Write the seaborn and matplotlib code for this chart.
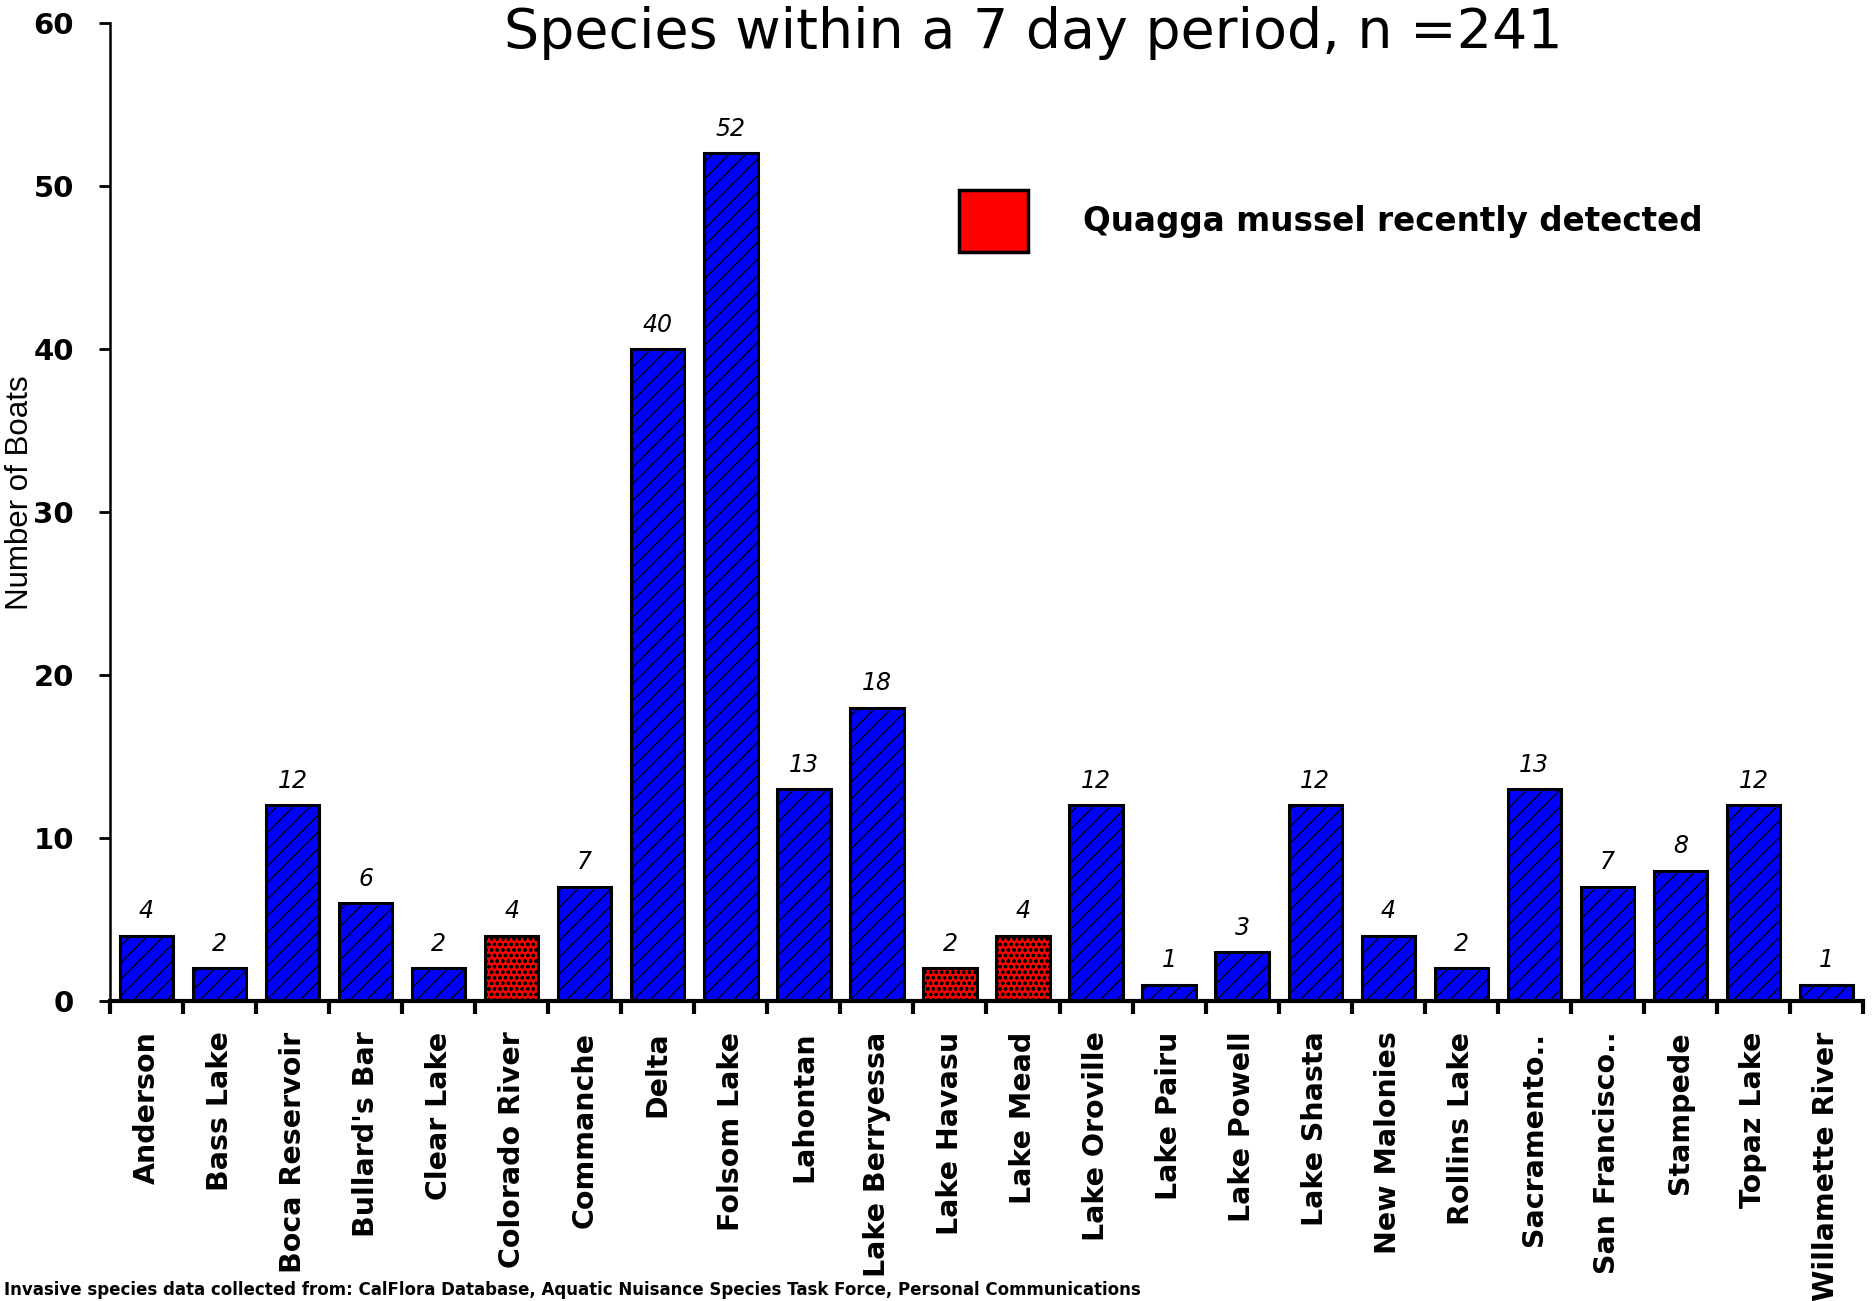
import matplotlib
matplotlib.use("Agg")
import matplotlib.pyplot as plt
import seaborn as sns
from matplotlib.patches import Patch
from matplotlib.ticker import FixedLocator, NullFormatter

# Boats inspected per water body over one week
sites = ["Anderson", "Bass Lake", "Boca Reservoir", "Bullard's Bar", "Clear Lake",
         "Colorado River", "Commanche", "Delta", "Folsom Lake", "Lahontan",
         "Lake Berryessa", "Lake Havasu", "Lake Mead", "Lake Oroville", "Lake Pairu",
         "Lake Powell", "Lake Shasta", "New Malonies", "Rollins Lake", "Sacramento..",
         "San Francisco..", "Stampede", "Topaz Lake", "Willamette River"]
boats = [4, 2, 12, 6, 2, 4, 7, 40, 52, 13, 18, 2, 4, 12, 1, 3, 12, 4, 2, 13, 7, 8, 12, 1]
quagga_sites = ["Colorado River", "Lake Havasu", "Lake Mead"]

BLUE = "#0000ff"
RED = "#ff0000"

sns.set_style("white")
plt.rcParams["font.family"] = ["DejaVu Sans"]
plt.rcParams["text.color"] = "black"
plt.rcParams["axes.labelcolor"] = "black"
plt.rcParams["xtick.color"] = "black"
plt.rcParams["ytick.color"] = "black"
plt.rcParams["hatch.color"] = "black"
plt.rcParams["hatch.linewidth"] = 0.9

fig = plt.figure(figsize=(18.73, 13.01), dpi=100)
ax = fig.add_axes([110 / 1873, 1 - 1001 / 1301, (1863 - 110) / 1873, (1001 - 23) / 1301])

palette = {s: (RED if s in quagga_sites else BLUE) for s in sites}
sns.barplot(x=sites, y=boats, hue=sites, palette=palette, legend=False,
            width=0.73, edgecolor="black", linewidth=2.2, saturation=1, ax=ax)

for patch, site in zip(ax.patches, sites):
    patch.set_hatch("ooo" if site in quagga_sites else "//")

for cont in ax.containers:
    ax.bar_label(cont, fmt="%d", padding=9, fontsize=17, fontstyle="italic", color="black")

ax.set_xlim(-0.5, len(sites) - 0.5)
ax.set_ylim(0, 60)
ax.set_yticks(range(0, 61, 10))

for side in ("top", "right"):
    ax.spines[side].set_visible(False)
ax.spines["left"].set_linewidth(1.8)
ax.spines["bottom"].set_linewidth(3)
ax.spines["left"].set_color("black")
ax.spines["bottom"].set_color("black")

ax.tick_params(axis="y", direction="out", length=8, width=2, pad=18,
               labelsize=21, left=True)
for lbl in ax.get_yticklabels():
    lbl.set_fontweight("bold")

ax.xaxis.set_minor_locator(FixedLocator([i - 0.5 for i in range(len(sites) + 1)]))
ax.xaxis.set_minor_formatter(NullFormatter())
ax.tick_params(axis="x", which="minor", direction="out", length=9, width=3, bottom=True)
ax.tick_params(axis="x", which="major", length=0, pad=22)
ax.set_xticks(range(len(sites)))
ax.set_xticklabels(sites, rotation=90, fontsize=20.5, fontweight="bold", va="top", ha="center")

ax.set_ylabel("Number of Boats", fontsize=22.5, family="Liberation Sans")
ax.yaxis.set_label_coords(-0.043, 0.52)

fig.text(1033 / 1873, 1 - 33 / 1301, "Species within a 7 day period, n =241",
         fontsize=40, ha="center", va="center")

handle = Patch(facecolor=RED, edgecolor="black", linewidth=2.5)
ax.legend([handle], ["Quagga mussel recently detected"], loc="center left",
          bbox_to_anchor=(959 / 1873, 1 - 221 / 1301), bbox_transform=fig.transFigure,
          frameon=False, borderpad=0, borderaxespad=0,
          handlelength=2.1, handleheight=2.55, handletextpad=1.7,
          prop={"size": 23.5, "weight": "bold"})

fig.text(0.002, 2 / 1301,
         "Invasive species data collected from: CalFlora Database, Aquatic Nuisance Species Task Force, Personal Communications",
         fontsize=12, fontweight="bold", ha="left", va="bottom")

fig.savefig("out.png", dpi=100)
